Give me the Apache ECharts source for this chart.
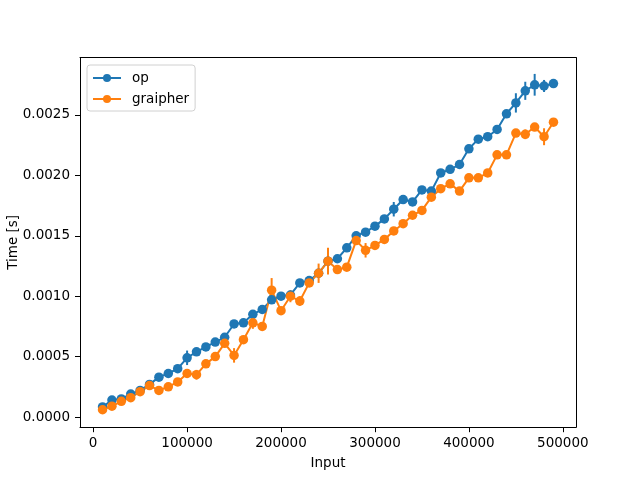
<!DOCTYPE html>
<html>
<head>
<meta charset="utf-8">
<script src="https://cdn.jsdelivr.net/npm/echarts@6/dist/echarts.min.js"></script>
<style>
  html, body { margin: 0; padding: 0; background: #fff; }
  #chart { width: 640px; height: 480px; }
</style>
</head>
<body>
<div id="chart"></div>
<script>
// timings
var inputs = [10000, 20000, 30000, 40000, 50000, 60000, 70000, 80000, 90000, 100000,
  110000, 120000, 130000, 140000, 150000, 160000, 170000, 180000, 190000, 200000,
  210000, 220000, 230000, 240000, 250000, 260000, 270000, 280000, 290000, 300000,
  310000, 320000, 330000, 340000, 350000, 360000, 370000, 380000, 390000, 400000,
  410000, 420000, 430000, 440000, 450000, 460000, 470000, 480000, 490000];

var opTime = [0.000083, 0.00014, 0.00015, 0.00019, 0.00022, 0.00027, 0.00033, 0.00036, 0.00040, 0.00049,
  0.00054, 0.00058, 0.00062, 0.00066, 0.00077, 0.00078, 0.00085, 0.00089, 0.00097, 0.00100,
  0.00101, 0.00111, 0.00113, 0.00119, 0.00129, 0.00131, 0.00140, 0.00150, 0.00153, 0.00158,
  0.00164, 0.00172, 0.00180, 0.00178, 0.00188, 0.00187, 0.00202, 0.00205, 0.00209, 0.00222,
  0.00230, 0.00232, 0.00238, 0.00251, 0.00260, 0.00270, 0.00275, 0.00274, 0.00276];

var opErr = [0.00002, 0.00002, 0.00002, 0.00002, 0.00002, 0.00002, 0.00002, 0.00002, 0.00002, 0.00006,
  0.00002, 0.00002, 0.00002, 0.00002, 0.00002, 0.00002, 0.00002, 0.00002, 0.00002, 0.00002,
  0.00002, 0.00002, 0.00002, 0.00002, 0.00002, 0.00002, 0.00002, 0.00002, 0.00002, 0.00002,
  0.00002, 0.00006, 0.00002, 0.00002, 0.00002, 0.00002, 0.00002, 0.00002, 0.00002, 0.00002,
  0.00002, 0.00002, 0.00002, 0.00002, 0.00008, 0.000075, 0.00009, 0.00005, 0.00002];

var graipherTime = [0.00006, 0.00009, 0.00013, 0.00016, 0.00021, 0.00026, 0.00022, 0.00025, 0.00029, 0.00036,
  0.00035, 0.00044, 0.00050, 0.00061, 0.00051, 0.00064, 0.00078, 0.00075, 0.00105, 0.00088,
  0.00100, 0.00096, 0.00111, 0.00119, 0.00129, 0.00122, 0.00124, 0.00146, 0.00138, 0.00142,
  0.00147, 0.00154, 0.00160, 0.00167, 0.00171, 0.00182, 0.00189, 0.00193, 0.00187, 0.00198,
  0.00198, 0.00202, 0.00217, 0.00217, 0.00235, 0.00234, 0.00240, 0.00232, 0.00244];

var graipherErr = [0.00002, 0.00002, 0.00002, 0.00002, 0.00002, 0.00002, 0.00002, 0.00002, 0.00002, 0.00002,
  0.00004, 0.00002, 0.00002, 0.00002, 0.00006, 0.00002, 0.00005, 0.00002, 0.00010, 0.00002,
  0.00005, 0.00004, 0.00002, 0.00008, 0.00011, 0.00002, 0.00002, 0.00002, 0.00006, 0.00002,
  0.00002, 0.00002, 0.00002, 0.00002, 0.00002, 0.00002, 0.00002, 0.00002, 0.00002, 0.00002,
  0.00002, 0.00002, 0.00002, 0.00002, 0.00002, 0.00004, 0.00002, 0.00007, 0.00002];

var xTicks = [0, 100000, 200000, 300000, 400000, 500000];
var yTicks = [0, 0.0005, 0.0010, 0.0015, 0.0020, 0.0025];

(function(){
  var myChart = echarts.init(document.getElementById('chart'));
  var font = 'DejaVu Sans';
  var fs = 13.5;
  var xMin = -14000, xMax = 514000;
  var yMin = -0.0000844, yMax = 0.002975;

  function points(ys) {
    return inputs.map(function (x, i) { return [x, ys[i]]; });
  }
  function bars(ys, es) {
    return inputs.map(function (x, i) { return [x, ys[i], es[i]]; });
  }
  function errBar(color) {
    return function (params, api) {
      var x = api.value(0), y = api.value(1), e = api.value(2);
      var lo = api.coord([x, y - e]);
      var hi = api.coord([x, y + e]);
      return {
        type: 'line',
        shape: { x1: lo[0], y1: lo[1], x2: hi[0], y2: hi[1] },
        style: { stroke: color, lineWidth: 2 }
      };
    };
  }
  // plain spine on the top / right side
  function spine(pos, min, max) {
    return {
      type: 'value', position: pos, min: min, max: max,
      axisLine: { show: true, onZero: false, lineStyle: { color: '#000' } },
      axisTick: { show: false }, axisLabel: { show: false }, splitLine: { show: false }
    };
  }

  var option = {
    animation: false,
    textStyle: { fontFamily: font },
    grid: {
      left: 80, right: 64, top: 57.6, bottom: 52.8,
      outerBoundsMode: 'none'
    },
    legend: {
      data: ['op', 'graipher'],
      orient: 'vertical',
      left: 87, top: 65,
      itemWidth: 28, itemHeight: 10, itemGap: 7,
      padding: [6, 6, 5, 5],
      borderColor: '#d0d0d0', borderWidth: 1, borderRadius: 3,
      backgroundColor: 'rgba(255,255,255,0.8)',
      textStyle: { fontFamily: font, fontSize: fs, color: '#000', padding: [0, 0, 0, 6] }
    },
    xAxis: [{
      type: 'value', position: 'bottom',
      min: xMin, max: xMax,
      name: 'Input', nameLocation: 'middle', nameGap: 29, nameMoveOverlap: false,
      nameTextStyle: { fontFamily: font, fontSize: fs, color: '#000' },
      axisLine: { show: true, onZero: false, lineStyle: { color: '#000' } },
      axisTick: { show: true, length: 5, customValues: xTicks, lineStyle: { color: '#000' } },
      axisLabel: {
        customValues: xTicks, color: '#000', fontFamily: font, fontSize: fs, margin: 9,
        formatter: function (v) { return String(v); }
      },
      splitLine: { show: false }
    }, spine('top', xMin, xMax)],
    yAxis: [{
      type: 'value', position: 'left',
      min: yMin, max: yMax,
      name: 'Time [s]', nameLocation: 'middle', nameGap: 60, nameMoveOverlap: false,
      nameTextStyle: { fontFamily: font, fontSize: fs, color: '#000' },
      axisLine: { show: true, onZero: false, lineStyle: { color: '#000' } },
      axisTick: { show: true, length: 5, customValues: yTicks, lineStyle: { color: '#000' } },
      axisLabel: {
        customValues: yTicks, color: '#000', fontFamily: font, fontSize: fs, margin: 10,
        formatter: function (v) { return v.toFixed(4); }
      },
      splitLine: { show: false }
    }, spine('right', yMin, yMax)],
    series: [
      {
        name: 'op-err', type: 'custom',
        renderItem: errBar('#1f77b4'),
        data: bars(opTime, opErr)
      },
      {
        name: 'op', type: 'line',
        data: points(opTime),
        symbol: 'circle', symbolSize: 9.5,
        itemStyle: { color: '#1f77b4' },
        lineStyle: { color: '#1f77b4', width: 2 }
      },
      {
        name: 'graipher-err', type: 'custom',
        renderItem: errBar('#ff7f0e'),
        data: bars(graipherTime, graipherErr)
      },
      {
        name: 'graipher', type: 'line',
        data: points(graipherTime),
        symbol: 'circle', symbolSize: 9.5,
        itemStyle: { color: '#ff7f0e' },
        lineStyle: { color: '#ff7f0e', width: 2 }
      }
    ]
  };

  myChart.setOption(option);
})();
</script>
</body>
</html>
